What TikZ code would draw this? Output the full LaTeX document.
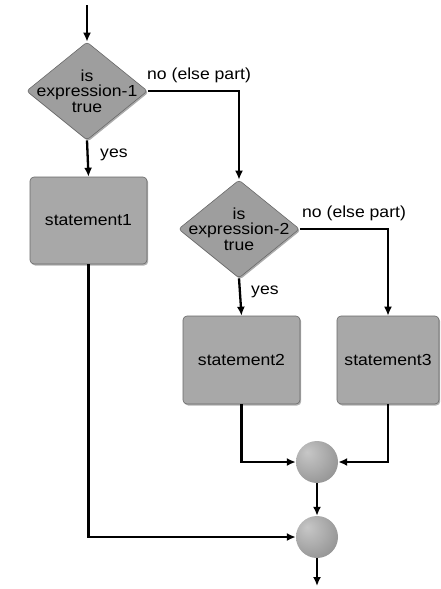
\documentclass[tikz,border=0pt]{standalone}
\usepackage{fontspec}
\setmainfont{Liberation Sans}[FakeStretch=1.1]
\usetikzlibrary{shapes.geometric,arrows.meta,shadows}
\definecolor{boxgray}{RGB}{168,168,168}
\definecolor{diagray}{RGB}{158,158,158}
\definecolor{edgegray}{RGB}{105,105,105}
% soft grey sphere, lit from the upper left
\pgfdeclareradialshading{softball}{\pgfpoint{-12bp}{12bp}}{%
  color(0bp)=(black!22); color(18bp)=(black!32); color(40bp)=(black!45);
  color(58bp)=(black!62); color(72bp)=(black!66)}
\tikzset{
  flow/.style={line width=2.3pt, -{Latex[length=9pt,width=8pt]}},
  decision/.style={diamond, fill=diagray, draw=edgegray, line width=0.6pt,
    rounded corners=3pt, inner sep=0pt, minimum width=121pt, minimum height=98pt,
    aspect=1.23, drop shadow={shadow xshift=1.2pt, shadow yshift=-1.5pt, fill=black!65}},
  dtext/.style={align=center, font=\fontsize{16}{15.5}\selectfont, inner sep=0pt},
  stmt/.style={rectangle, fill=boxgray, draw=edgegray, line width=0.6pt,
    rounded corners=4pt, inner sep=0pt,
    drop shadow={shadow xshift=1.2pt, shadow yshift=-1.5pt, fill=black!60},
    font=\fontsize{16}{16}\selectfont},
  joint/.style={circle, minimum size=42pt, inner sep=0pt, shading=softball},
  lbl/.style={font=\fontsize{16}{16}\selectfont, inner sep=0pt, anchor=west},
}
\begin{document}
\begin{tikzpicture}[x=1pt, y=-1pt]
  \useasboundingbox (0,0) rectangle (440,589);

  % decisions
  \node[decision] (d1) at (87,91) {};
  \node[dtext] (d1t) at (d1.center) {is\\expression-1\\true};
  \node[decision] (d2) at (239,229) {};
  \node[dtext] (d2t) at (d2.center) {is\\expression-2\\true};

  % statements
  \node[stmt, minimum width=117pt, minimum height=87pt] (s1) at (88.5,220.5) {statement1};
  \node[stmt, minimum width=117pt, minimum height=88pt] (s2) at (241.5,360) {statement2};
  \node[stmt, minimum width=102pt, minimum height=88pt] (s3) at (388,360) {statement3};

  % joining points
  \node[joint] (j1) at (317,462) {};
  \node[joint] (j2) at (317,537) {};

  % entry and exit
  \coordinate (start) at (87,5);
  \coordinate (finish) at (317,586);
  \draw[flow] (start) -- (d1.north);
  \draw[flow] (j2.south) -- (finish);

  % first decision
  \draw[flow] (d1.south) -- (s1.north);
  \node[lbl] (y1) at (100,155) {yes};
  \draw[flow] (d1.east) -| (d2.north);
  \node[lbl] (n1) at (147,75) {no (else part)};

  % second decision
  \draw[flow] (d2.south) -- (s2.north);
  \node[lbl] (y2) at (251,292) {yes};
  \draw[flow] (d2.east) -| (s3.north);
  \node[lbl] (n2) at (302,213) {no (else part)};

  % merging
  \draw[flow] (s2.south) |- (j1.west);
  \draw[flow] (s3.south) |- (j1.east);
  \draw[flow] (j1.south) -- (j2.north);
  \draw[flow] (s1.south) |- (j2.west);
\end{tikzpicture}
\end{document}
